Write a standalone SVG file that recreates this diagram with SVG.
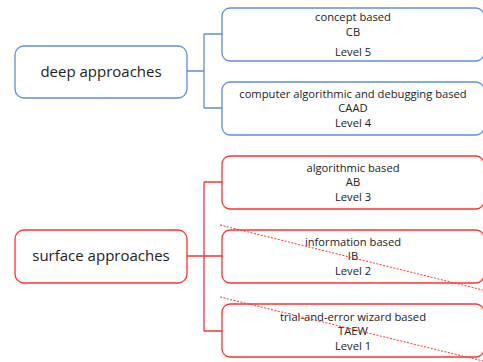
<svg xmlns="http://www.w3.org/2000/svg" width="483" height="362" viewBox="0 0 483 362">
<style>
.b{fill:#fff;stroke:#5f8fd9;stroke-width:1.3}
.r{fill:#fff;stroke:#ff3030;stroke-width:1.3}
.cb{fill:none;stroke:#5f8fd9;stroke-width:1.3}
.cr{fill:none;stroke:#ff3030;stroke-width:1.3}
.d{fill:none;stroke:#ff3030;stroke-width:1;stroke-dasharray:2 1.5}
text{font-family:"Open Sans","Liberation Sans",sans-serif;fill:#222;text-anchor:middle}
.big{font-size:15px}
.sm{font-size:11.2px}
</style>
<rect width="483" height="362" fill="#fff"/>
<g id="connectors">
<path class="cb" d="M187 71H204M204 34V108M204 34H222M204 108H222"/>
<path class="cr" d="M187 256H222M204 182V331M204 182H222M204 331H222"/>
</g>
<g id="deep"><rect class="b" x="15" y="46" width="172" height="52" rx="9"/><text class="big" x="101" y="77">deep approaches</text></g>
<g id="cb"><rect class="b" x="222" y="8" width="262" height="53" rx="8"/><text class="sm" x="353" y="21">concept based</text><text class="sm" x="353" y="36">CB</text><text class="sm" x="353" y="56">Level 5</text></g>
<g id="caad"><rect class="b" x="222" y="82" width="262" height="53" rx="8"/><text class="sm" x="353" y="98">computer algorithmic and debugging based</text><text class="sm" x="353" y="112">CAAD</text><text class="sm" x="353" y="127">Level 4</text></g>
<g id="surface"><rect class="r" x="15" y="230" width="172" height="53" rx="9"/><text class="big" x="101" y="261">surface approaches</text></g>
<g id="ab"><rect class="r" x="222" y="156" width="262" height="53" rx="8"/><text class="sm" x="353" y="172">algorithmic based</text><text class="sm" x="353" y="186">AB</text><text class="sm" x="353" y="201">Level 3</text></g>
<g id="ib"><rect class="r" x="222" y="230" width="262" height="53" rx="8"/><text class="sm" x="353" y="246">information based</text><text class="sm" x="353" y="260">IB</text><text class="sm" x="353" y="275">Level 2</text></g>
<g id="taew"><rect class="r" x="222" y="304" width="262" height="53" rx="8"/><text class="sm" x="353" y="321">trial-and-error wizard based</text><text class="sm" x="353" y="335">TAEW</text><text class="sm" x="353" y="350">Level 1</text></g>
<g id="strikes">
<line class="d" x1="220" y1="225" x2="483" y2="290"/>
<line class="d" x1="220" y1="297" x2="483" y2="361"/>
</g>
</svg>
